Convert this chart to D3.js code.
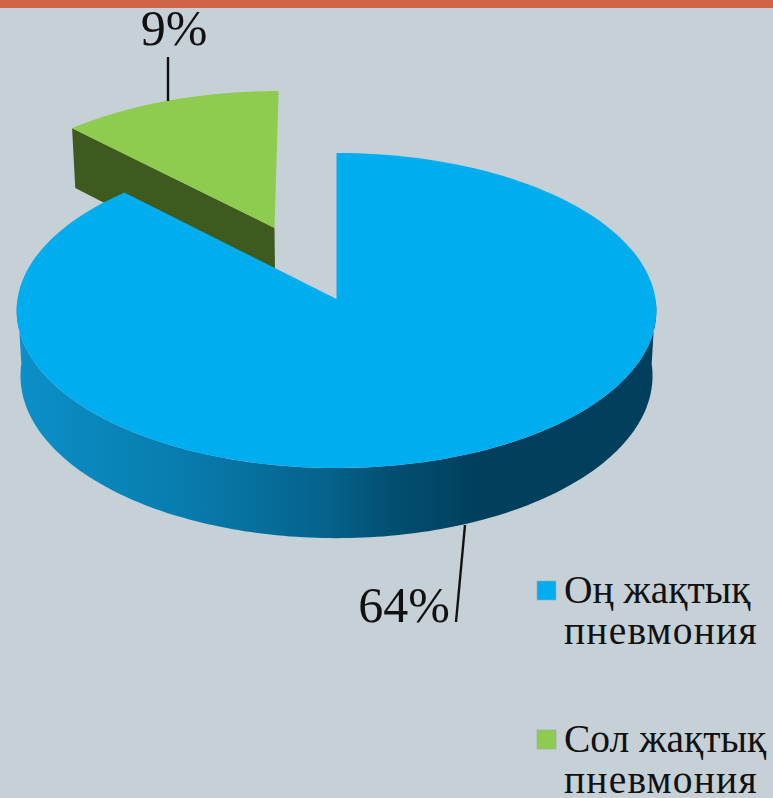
<!DOCTYPE html>
<html>
<head>
<meta charset="utf-8">
<script src="https://cdn.jsdelivr.net/npm/d3@7"></script>
<style>
html,body{margin:0;padding:0;background:#c5d0d7}
svg{display:block}
</style>
</head>
<body>
<svg id="chart" width="773" height="798"></svg>
<script>
// Values and labels
const categories = ["Оң жақтық пневмония", "Сол жақтық пневмония"];
const legendLines = [["Оң жақтық", "пневмония"], ["Сол жақтық", "пневмония"]];
const values = [64, 9];
const valueLabels = ["64%", "9%"];
const sliceColors = ["#00aeef", "#8fcb4e"];
const wallStops = [
  [0, "#0c90c8"], [0.29, "#077aab"], [0.5, "#05628a"], [0.6, "#034f72"], [0.74, "#013f5d"], [1, "#013f5c"]
];
const greenWall = "#3f5a1e";
const textFont = "'Liberation Serif','Times New Roman',serif";

const svg = d3.select("#chart");
const W = 773, H = 798;

svg.append("rect").attr("width", W).attr("height", H).attr("fill", "#c5d0d7");
svg.append("rect").attr("width", W).attr("height", 8).attr("fill", "#d0634a");

// Pie layout: the blue slice runs clockwise from 12 o'clock, the green one closes the circle
const arcs = d3.pie().sort(null).value(d => d)(values);
const TAU = 2 * Math.PI;

// Tilted disc with a slight perspective: unit disc (u right, v away from the viewer) to screen
const centre = {x: 336.5, y: 299};
const radius = {x: 319, y: 156.7};
const persp = 0.073, depth = 65, explode = 0.507, taper = 0.012;
const sx = d3.scaleLinear().domain([-1, 1]).range([centre.x - radius.x, centre.x + radius.x]);
const sy = d3.scaleLinear().domain([-1, 1]).range([centre.y + radius.y, centre.y - radius.y]);
const shrink = v => 1 / (1 + persp * v);
const project = (u, v, drop = 0) => [
  sx(u * shrink(v) * (1 - taper * drop / depth)),
  sy(v * shrink(v)) + drop * shrink(v)
];

const rim = (a, o = [0, 0]) => [o[0] + Math.sin(a), o[1] + Math.cos(a)];
const samples = (a0, a1, n = 160) => d3.range(n + 1).map(i => a0 + (a1 - a0) * i / n);
const line = d3.line();

function sector(d, o) {
  const top = samples(d.startAngle, d.endAngle).map(a => project(...rim(a, o)));
  return line([project(...o), ...top]) + "Z";
}

// Green slice pulled out along its own bisector, a little further sideways
const green = arcs[1];
const mid = (green.startAngle + green.endAngle) / 2;
const offset = [explode * Math.sin(mid) * 1.05, explode * Math.cos(mid)];

// Cut face of the green slice, partly hidden by the blue slice in front
const corner = rim(green.startAngle, offset);
const apex = offset;
svg.append("path")
  .attr("d", line([
    project(...corner), project(...apex),
    project(...apex, depth), project(...corner, depth)
  ]) + "Z")
  .attr("fill", greenWall);
svg.append("path").attr("d", sector(green, offset)).attr("fill", sliceColors[1]);

// Outer wall of the blue slice, shaded left to right
const defs = svg.append("defs");
const grad = defs.append("linearGradient").attr("id", "wall")
  .attr("gradientUnits", "userSpaceOnUse")
  .attr("x1", sx(-1)).attr("x2", sx(0.95)).attr("y1", 0).attr("y2", 0);
grad.selectAll("stop").data(wallStops).join("stop")
  .attr("offset", d => d[0]).attr("stop-color", d => d[1]);

const front = samples(TAU * 0.25, TAU * 0.75).map(a => rim(a));
svg.append("path")
  .attr("d", line([
    ...front.map(p => project(...p)),
    ...front.slice().reverse().map(p => project(...p, depth))
  ]) + "Z")
  .attr("fill", "url(#wall)");

svg.append("path").attr("d", sector(arcs[0], [0, 0])).attr("fill", sliceColors[0]);

// Leader lines and percentages
const leaders = [
  {label: valueLabels[0], from: [465, 525], to: [456, 622], tx: 450, ty: 622, anchor: "end"},
  {label: valueLabels[1], from: [168, 101], to: [168, 57], tx: 174, ty: 45, anchor: "middle"}
];
leaders.forEach(l => {
  svg.append("line")
    .attr("x1", l.from[0]).attr("y1", l.from[1]).attr("x2", l.to[0]).attr("y2", l.to[1])
    .attr("stroke", "#111").attr("stroke-width", 2.4);
  svg.append("text").attr("x", l.tx).attr("y", l.ty).attr("text-anchor", l.anchor)
    .attr("font-family", textFont).attr("fill", "#111")
    .attr("font-size", 50).text(l.label);
});

// Legend
const legendY = d3.scaleOrdinal().domain(categories).range([581, 730]);
const legend = svg.append("g").selectAll("g").data(categories).join("g")
  .attr("transform", d => `translate(537,${legendY(d)})`);
legend.append("rect").attr("width", 19).attr("height", 19)
  .attr("fill", (d, i) => sliceColors[i]).attr("stroke", "#9aa8ad").attr("stroke-width", 0.6);
legend.each(function (d, i) {
  d3.select(this).selectAll("text").data(legendLines[i]).join("text")
    .attr("x", 27).attr("y", (t, j) => 22 + j * 41)
    .attr("font-family", textFont).attr("fill", "#111")
    .attr("font-size", 39.5)
    .attr("letter-spacing", (t, j) => j === 1 ? 1.2 : 0)
    .text(t => t);
});
</script>
</body>
</html>
